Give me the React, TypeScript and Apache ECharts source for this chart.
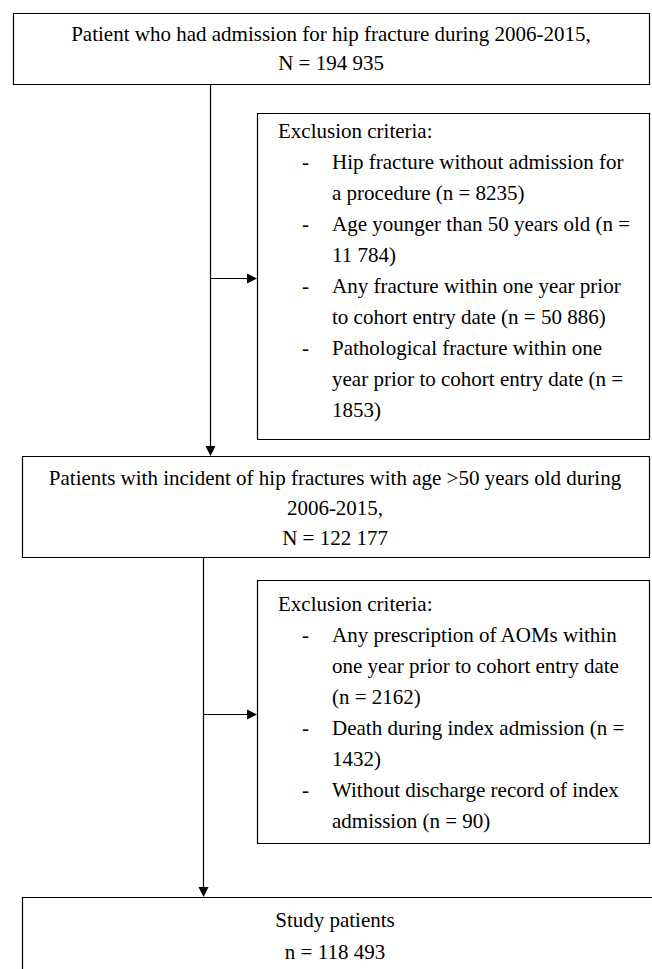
import React, { useEffect, useRef } from "react";
import * as echarts from "echarts";

const topBoxLines = [
  "Patient who had admission for hip fracture during 2006-2015,",
  "N = 194 935",
];
const exclusion1Header = "Exclusion criteria:";
const exclusion1Items = [
  ["Hip fracture without admission for", "a procedure (n = 8235)"],
  ["Age younger than 50 years old (n =", "11 784)"],
  ["Any fracture within one year prior", "to cohort entry date (n = 50 886)"],
  ["Pathological fracture within one", "year prior to cohort entry date (n =", "1853)"],
];
const middleBoxLines = [
  "Patients with incident of hip fractures with age >50 years old during",
  "2006-2015,",
  "N = 122 177",
];
const exclusion2Header = "Exclusion criteria:";
const exclusion2Items = [
  ["Any prescription of AOMs within", "one year prior to cohort entry date", "(n = 2162)"],
  ["Death during index admission (n =", "1432)"],
  ["Without discharge record of index", "admission (n = 90)"],
];
const bottomBoxLines = ["Study patients", "n = 118 493"];

const FONT_FAMILY = '"Liberation Serif", "Times New Roman", Times, serif';
const FS = 21;
const INK = "#000";

function textEl(text: string, x: number, y: number, align: string) {
  return {
    type: "text",
    x,
    y,
    silent: true,
    style: {
      text,
      fontFamily: FONT_FAMILY,
      fontSize: FS,
      fill: INK,
      align,
      verticalAlign: "middle",
      textAlign: align,
      textVerticalAlign: "middle",
    },
  };
}

function boxEl(x: number, y: number, w: number, h: number) {
  return {
    type: "rect",
    shape: { x, y, width: w, height: h },
    style: { fill: "#fff", stroke: INK, lineWidth: 1.2 },
  };
}

function lineEl(x1: number, y1: number, x2: number, y2: number) {
  return {
    type: "line",
    shape: { x1, y1, x2, y2 },
    style: { stroke: INK, lineWidth: 1.2 },
  };
}

function arrowDown(x: number, yTip: number) {
  return {
    type: "polygon",
    shape: { points: [[x - 5, yTip - 10], [x + 5, yTip - 10], [x, yTip]] },
    style: { fill: INK },
  };
}

function arrowRight(xTip: number, y: number) {
  return {
    type: "polygon",
    shape: { points: [[xTip - 10, y - 5], [xTip - 10, y + 5], [xTip, y]] },
    style: { fill: INK },
  };
}

function exclusionTexts(header: string, items: string[][], x0: number, y0: number, step: number) {
  const els: any[] = [textEl(header, x0, y0, "left")];
  let row = 1;
  items.forEach((item) => {
    els.push(textEl("-", x0 + 24, y0 + row * step, "left"));
    item.forEach((ln) => {
      els.push(textEl(ln, x0 + 54, y0 + row * step, "left"));
      row++;
    });
  });
  return els;
}

function centeredTexts(lines: string[], cx: number, y0: number, step: number) {
  return lines.map((ln, i) => textEl(ln, cx, y0 + i * step, "center"));
}

export default function App() {
  const ref = useRef<HTMLDivElement>(null);
  useEffect(() => {
    if (!ref.current) return;
    const chart = echarts.init(ref.current, null, { renderer: "svg" });
    const elements: any[] = [
      // connectors
      lineEl(210.5, 84, 210.5, 446),
      arrowDown(210.5, 456),
      lineEl(210.5, 278.5, 247, 278.5),
      arrowRight(257, 278.5),
      lineEl(203.5, 557, 203.5, 887),
      arrowDown(203.5, 897),
      lineEl(203.5, 714.5, 247, 714.5),
      arrowRight(257, 714.5),
      // boxes
      boxEl(13.5, 13.5, 636, 71),
      boxEl(257.5, 113.5, 392, 326),
      boxEl(22.5, 456.5, 627, 101),
      boxEl(257.5, 580.5, 392, 263),
      boxEl(22.5, 897.5, 640, 90),
      // texts
      ...centeredTexts(topBoxLines, 331, 34, 29),
      ...exclusionTexts(exclusion1Header, exclusion1Items, 278, 131, 31),
      ...centeredTexts(middleBoxLines, 335, 478, 30),
      ...exclusionTexts(exclusion2Header, exclusion2Items, 278, 604, 31),
      ...centeredTexts(bottomBoxLines, 335, 920, 32),
    ];
    chart.setOption({
      animation: false,
      backgroundColor: "#fff",
      graphic: { elements },
    });
    return () => chart.dispose();
  }, []);
  return (
    <div
      ref={ref}
      style={{ position: "fixed", left: 0, top: 0, width: 652, height: 969, background: "#fff" }}
    />
  );
}
